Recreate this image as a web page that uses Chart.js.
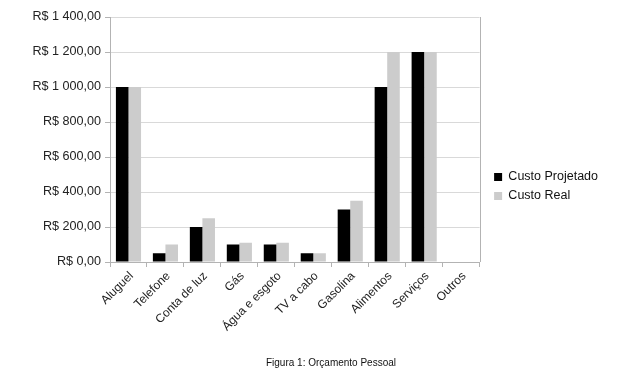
<!DOCTYPE html>
<html>
<head>
<meta charset="utf-8">
<script src="https://cdn.jsdelivr.net/npm/chart.js@4/dist/chart.umd.min.js"></script>
<style>
  html, body { margin: 0; padding: 0; background: #fff; }
  #wrap { width: 632px; height: 375px; position: relative; }
  #caption {
    position: absolute; left: 231px; width: 200px; top: 357px;
    text-align: center; font: 10px 'Liberation Sans', Arial, sans-serif; color: #111;
  }
</style>
</head>
<body>
<div id="wrap">
  <canvas id="chart"></canvas>
  <div id="caption">Figura 1: Orçamento Pessoal</div>
</div>
<script>
// categories and values
const categorias = ["Aluguel", "Telefone", "Conta de luz", "Gás", "Água e esgoto",
  "TV a cabo", "Gasolina", "Alimentos", "Serviços", "Outros"];
const custoProjetado = [1000, 50, 200, 100, 100, 50, 300, 1000, 1200, 0];
const custoReal = [1000, 100, 250, 110, 110, 50, 350, 1200, 1200, 0];
const yMax = 1400;
const yStep = 200;

// R$ 1 400,00 style
function formatReal(v) {
  let parts = v.toFixed(2).split(".");
  let inteiro = parts[0].replace(/\B(?=(\d{3})+(?!\d))/g, " ");
  return "R$ " + inteiro + "," + parts[1];
}

// right edge line of the plot box
const frameRight = {
  id: "frameRight",
  afterDatasetsDraw(chart) {
    const a = chart.chartArea;
    const ctx = chart.ctx;
    ctx.save();
    ctx.strokeStyle = "#b3b3b3";
    ctx.lineWidth = 1;
    ctx.beginPath();
    ctx.moveTo(Math.round(a.right) + 0.5, a.top);
    ctx.lineTo(Math.round(a.right) + 0.5, a.bottom);
    ctx.stroke();
    ctx.restore();
  }
};

// nudge the legend a bit right, like the original
const legendNudge = {
  id: "legendNudge",
  afterLayout(chart) {
    const lg = chart.legend;
    if (!lg) return;
    lg.left += 8; lg.right += 8;
  }
};

Chart.defaults.font.family = "'Liberation Sans', Arial, sans-serif";
Chart.defaults.color = "#222";

new Chart(document.getElementById("chart"), {
  type: "bar",
  data: {
    labels: categorias,
    datasets: [
      { label: "Custo Projetado", data: custoProjetado, backgroundColor: "#000000", borderWidth: 0 },
      { label: "Custo Real", data: custoReal, backgroundColor: "#cccccc", borderWidth: 0 }
    ]
  },
  options: {
    responsive: true,
    maintainAspectRatio: false,
    animation: false,
    layout: { padding: { left: 0, top: 17, right: 32, bottom: 19 } },
    datasets: { bar: { categoryPercentage: 0.68, barPercentage: 1.0 } },
    scales: {
      x: {
        grid: { offset: true, drawOnChartArea: false, drawTicks: true, tickLength: 5, color: "#b3b3b3" },
        border: { color: "#b3b3b3" },
        ticks: { autoSkip: false, minRotation: 45, maxRotation: 45, padding: 2, labelOffset: 3, font: { size: 12 } },
        afterFit(scale) { scale.height = 94; }
      },
      y: {
        min: 0,
        max: yMax,
        grid: { color: "#d9d9d9", tickColor: "#b3b3b3", tickLength: 5 },
        border: { color: "#b3b3b3" },
        ticks: { stepSize: yStep, padding: 4, font: { size: 12.6 }, callback: (v) => formatReal(v) },
        afterFit(scale) { scale.width = 110; }
      }
    },
    plugins: {
      legend: {
        position: "right",
        labels: { boxWidth: 8, boxHeight: 8, padding: 6.5, font: { size: 12.5 }, color: "#111" }
      },
      tooltip: { enabled: false }
    }
  },
  plugins: [frameRight, legendNudge]
});
</script>
</body>
</html>
